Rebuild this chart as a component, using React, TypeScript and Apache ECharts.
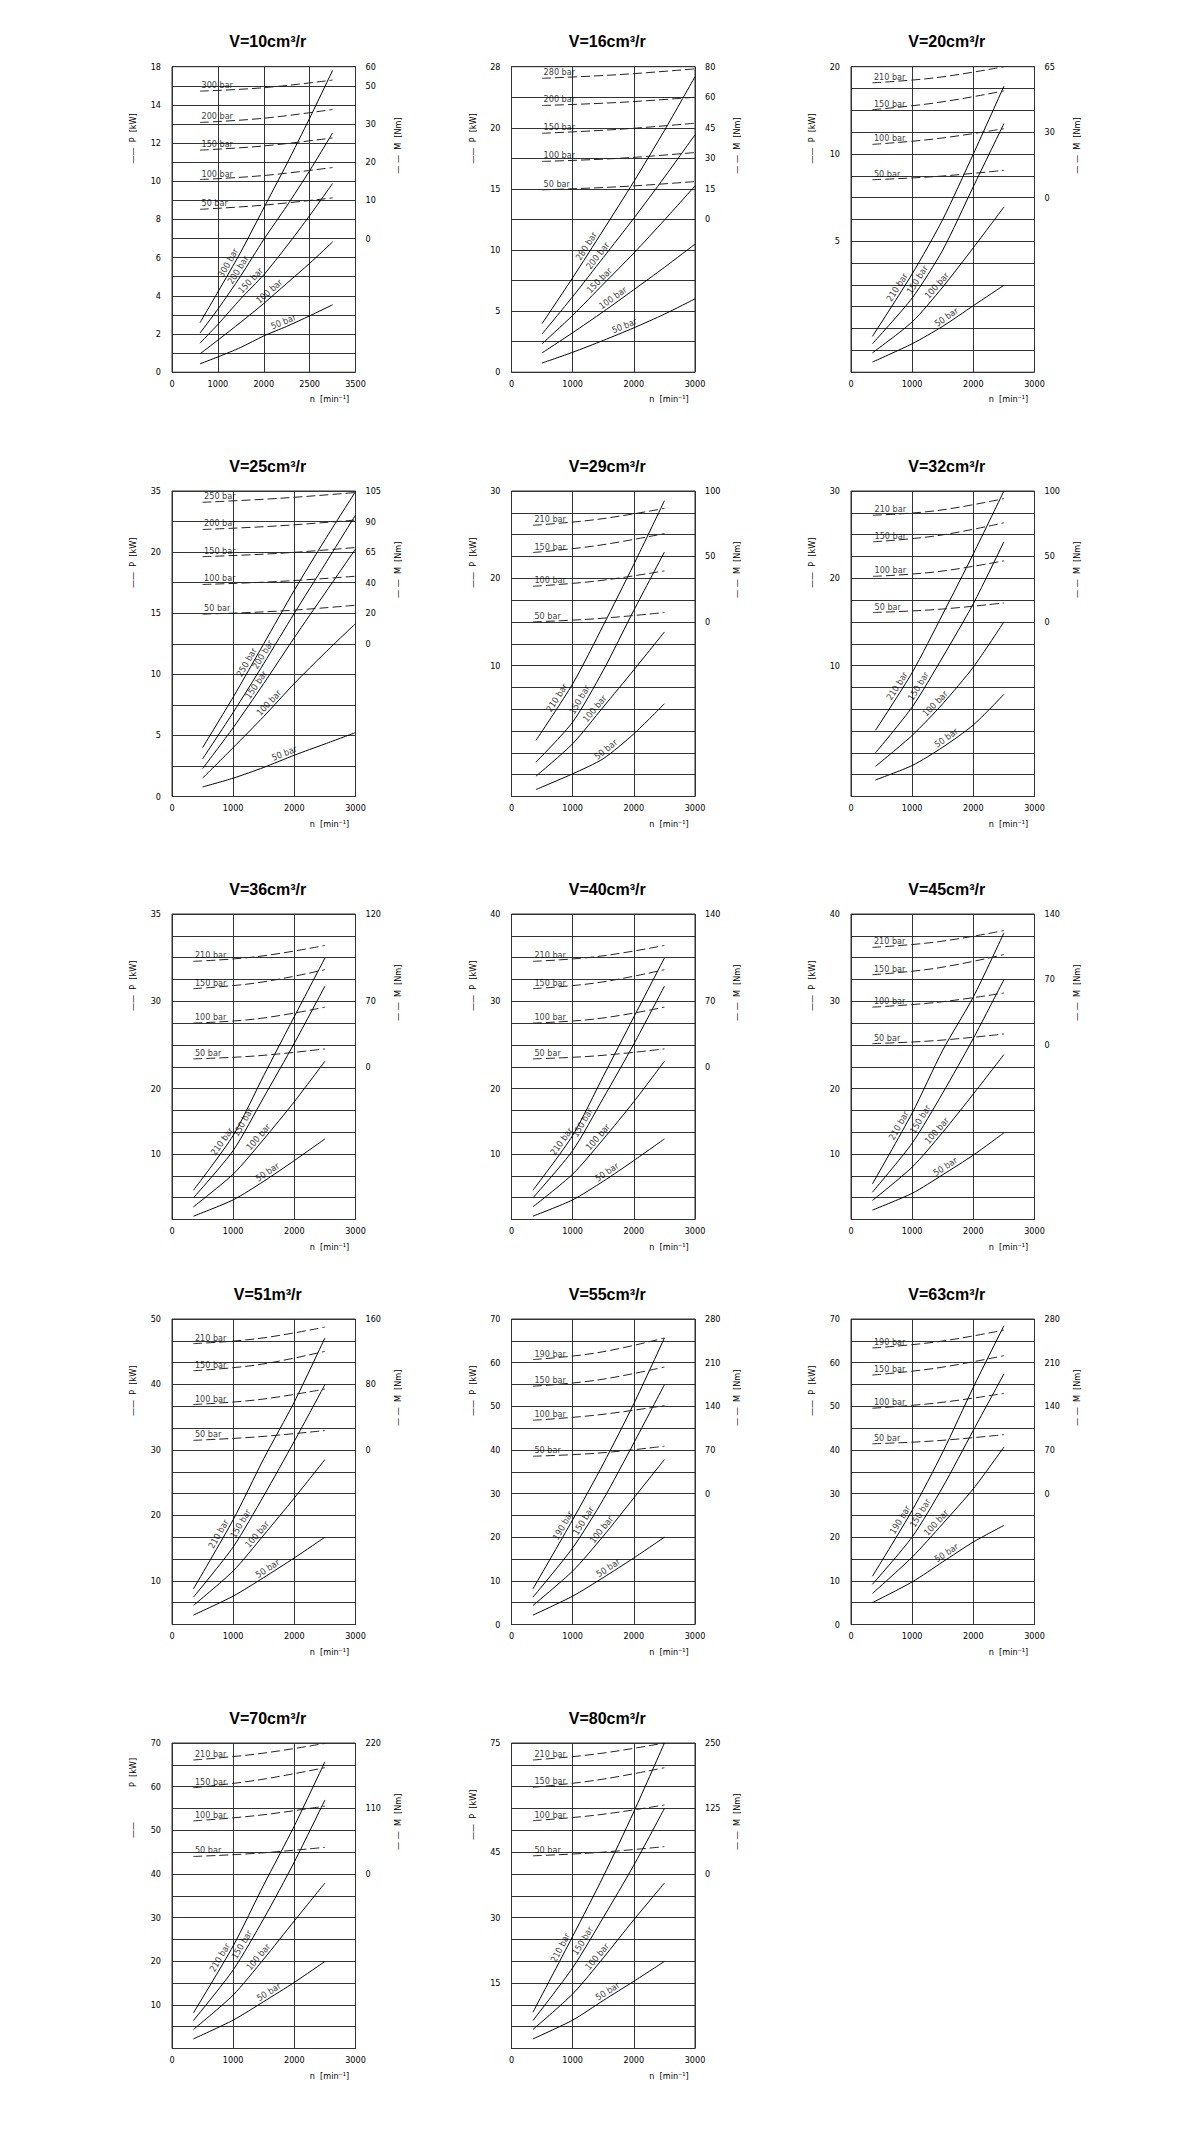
import React, { useEffect, useRef } from "react";
import * as echarts from "echarts";

type Curve = { bar: string; P: number[] };
type DashCurve = { bar: string; M: number[] };
type ChartDef = {
  title: string;
  xMax: number;
  xLabels: string[];
  rows: number;
  pStep: number;
  pLabels: [number, string][];
  mZero: number;
  mStep: number;
  mLabels: [number, string][];
  n: number[];
  solid: Curve[];
  labelAt: number[];
  nDash: number[];
  dashed: DashCurve[];
  pName?: [string, number][];
};

const X3 = ["0", "1000", "2000", "3000"];

// ---------- V=10 ----------
const V10: ChartDef = {
  title: "V=10cm³/r",
  xMax: 4000,
  xLabels: ["0", "1000", "2000", "2500", "3500"],
  rows: 16,
  pStep: 1,
  pLabels: [[0, "0"], [2, "2"], [4, "4"], [6, "6"], [8, "8"], [10, "10"], [12, "12"], [14, "14"], [16, "18"]],
  mZero: 7,
  mStep: 5,
  mLabels: [[7, "0"], [9, "10"], [11, "20"], [13, "30"], [15, "50"], [16, "60"]],
  n: [610, 1000, 1500, 2000, 2500, 3000, 3500],
  solid: [
    { bar: "300 bar", P: [2.59, 4.2, 6.3, 8.6, 10.9, 13.3, 15.8] },
    { bar: "200 bar", P: [2.05, 3.3, 5.05, 6.95, 8.7, 10.55, 12.53] },
    { bar: "150 bar", P: [1.52, 2.5, 3.85, 5.1, 6.6, 8.2, 9.88] },
    { bar: "100 bar", P: [0.96, 1.68, 2.62, 3.6, 4.65, 5.7, 6.82] },
    { bar: "50 bar", P: [0.44, 0.8, 1.3, 1.9, 2.4, 2.95, 3.53] },
  ],
  labelAt: [1330, 1540, 1800, 2200, 2475],
  nDash: [610, 2000, 3500],
  dashed: [
    { bar: "300 bar", M: [38.6, 39.5, 41.5] },
    { bar: "200 bar", M: [30.4, 31.5, 33.8] },
    { bar: "150 bar", M: [23.15, 24.25, 26.35] },
    { bar: "100 bar", M: [15.45, 16.5, 18.6] },
    { bar: "50 bar", M: [7.65, 8.75, 10.65] },
  ],
};

// ---------- V=16 ----------
const V16: ChartDef = {
  title: "V=16cm³/r",
  xMax: 3000,
  xLabels: X3,
  rows: 10,
  pStep: 2.5,
  pLabels: [[0, "0"], [2, "5"], [4, "10"], [6, "15"], [8, "20"], [10, "28"]],
  mZero: 5,
  mStep: 15,
  mLabels: [[5, "0"], [6, "15"], [7, "30"], [8, "45"], [9, "60"], [10, "80"]],
  n: [500, 1000, 1500, 2000, 2500, 3000],
  solid: [
    { bar: "280 bar", P: [3.98, 7.73, 11.63, 15.6, 19.78, 24.18] },
    { bar: "200 bar", P: [3.13, 6.18, 9.38, 12.6, 15.95, 19.43] },
    { bar: "150 bar", P: [2.33, 4.65, 7.2, 9.75, 12.45, 15.25] },
    { bar: "100 bar", P: [1.58, 3.23, 4.95, 6.75, 8.58, 10.48] },
    { bar: "50 bar", P: [0.75, 1.63, 2.6, 3.63, 4.75, 6.0] },
  ],
  labelAt: [1300, 1480, 1500, 1710, 1880],
  nDash: [500, 1750, 3000],
  dashed: [
    { bar: "280 bar", M: [69.3, 71.1, 73.95] },
    { bar: "200 bar", M: [55.95, 57.45, 60] },
    { bar: "150 bar", M: [42.3, 44.25, 47.25] },
    { bar: "100 bar", M: [28.5, 30, 32.85] },
    { bar: "50 bar", M: [14.55, 16.05, 18.6] },
  ],
};

// ---------- V=20 ----------
const V20: ChartDef = {
  title: "V=20cm³/r",
  xMax: 3000,
  xLabels: X3,
  rows: 14,
  pStep: 1.25,
  pLabels: [[6, "5"], [10, "10"], [14, "20"]],
  mZero: 8,
  mStep: 10,
  mLabels: [[8, "0"], [11, "30"], [14, "65"]],
  n: [350, 1000, 1500, 2000, 2500],
  solid: [
    { bar: "210 bar", P: [2.05, 5.63, 8.75, 12.5, 16.38] },
    { bar: "150 bar", P: [1.63, 4.25, 7.0, 10.63, 14.24] },
    { bar: "100 bar", P: [1.11, 2.88, 4.88, 7.13, 9.46] },
    { bar: "50 bar", P: [0.58, 1.63, 2.63, 3.81, 4.98] },
  ],
  labelAt: [830, 1160, 1470, 1610],
  nDash: [350, 1400, 2500],
  dashed: [
    { bar: "210 bar", M: [52.6, 55, 60] },
    { bar: "150 bar", M: [40.3, 43.5, 48.9] },
    { bar: "100 bar", M: [24.4, 27, 31.6] },
    { bar: "50 bar", M: [8.2, 9.7, 12.5] },
  ],
};

// ---------- V=25 ----------
const V25: ChartDef = {
  title: "V=25cm³/r",
  xMax: 3000,
  xLabels: X3,
  rows: 10,
  pStep: 2.5,
  pLabels: [[0, "0"], [2, "5"], [4, "10"], [6, "15"], [8, "20"], [10, "35"]],
  mZero: 5,
  mStep: 20,
  mLabels: [[5, "0"], [6, "20"], [7, "40"], [8, "65"], [9, "90"], [10, "105"]],
  n: [500, 1000, 1500, 2000, 2500, 3000],
  solid: [
    { bar: "250 bar", P: [4.0, 8.13, 12.5, 16.88, 21.0, 24.95] },
    { bar: "200 bar", P: [3.08, 6.88, 10.88, 15.0, 19.0, 23.03] },
    { bar: "150 bar", P: [2.28, 5.63, 9.25, 13.0, 16.63, 20.25] },
    { bar: "100 bar", P: [1.5, 4.0, 6.55, 9.25, 11.75, 14.15] },
    { bar: "50 bar", P: [0.78, 1.5, 2.38, 3.38, 4.3, 5.23] },
  ],
  labelAt: [1300, 1560, 1450, 1650, 1870],
  nDash: [500, 1750, 3000],
  dashed: [
    { bar: "250 bar", M: [92.6, 95.2, 99] },
    { bar: "200 bar", M: [74.8, 77.2, 81] },
    { bar: "150 bar", M: [57, 59.2, 63] },
    { bar: "100 bar", M: [38.8, 40.8, 44.2] },
    { bar: "50 bar", M: [19.4, 21.4, 25.2] },
  ],
};

// ---------- V=29 ----------
const V29: ChartDef = {
  title: "V=29cm³/r",
  xMax: 3000,
  xLabels: X3,
  rows: 14,
  pStep: 2.5,
  pLabels: [[6, "10"], [10, "20"], [14, "30"]],
  mZero: 8,
  mStep: 50 / 3,
  mLabels: [[8, "0"], [11, "50"], [14, "100"]],
  n: [400, 1000, 1500, 2000, 2500],
  solid: [
    { bar: "210 bar", P: [6.43, 12.9, 19.6, 26.6, 33.88] },
    { bar: "150 bar", P: [3.93, 8.53, 14.45, 21.33, 28.0] },
    { bar: "100 bar", P: [2.33, 6.05, 10.25, 14.5, 18.85] },
    { bar: "50 bar", P: [0.8, 2.6, 4.33, 7.18, 10.63] },
  ],
  labelAt: [820, 1190, 1430, 1600],
  nDash: [350, 1400, 2500],
  dashed: [
    { bar: "210 bar", M: [73.8, 78.3, 86.7] },
    { bar: "150 bar", M: [53.0, 58.3, 67.5] },
    { bar: "100 bar", M: [27.2, 31.3, 39.0] },
    { bar: "50 bar", M: [0, 2.5, 7.2] },
  ],
};

// ---------- V=32 ----------
const V32: ChartDef = {
  title: "V=32cm³/r",
  xMax: 3000,
  xLabels: X3,
  rows: 14,
  pStep: 2.5,
  pLabels: [[6, "10"], [10, "20"], [14, "30"]],
  mZero: 8,
  mStep: 50 / 3,
  mLabels: [[8, "0"], [11, "50"], [14, "100"]],
  n: [400, 1000, 1500, 2000, 2500],
  solid: [
    { bar: "210 bar", P: [7.58, 14.2, 20.9, 27.8, 35.0] },
    { bar: "150 bar", P: [5.0, 10.25, 15.98, 22.1, 29.18] },
    { bar: "100 bar", P: [3.45, 7.0, 10.63, 14.83, 20.0] },
    { bar: "50 bar", P: [1.9, 3.55, 5.65, 8.2, 11.7] },
  ],
  labelAt: [830, 1180, 1440, 1610],
  nDash: [360, 1400, 2500],
  dashed: [
    { bar: "210 bar", M: [81.5, 85, 94.2] },
    { bar: "150 bar", M: [61.2, 65.8, 75.7] },
    { bar: "100 bar", M: [34.8, 38.3, 46.7] },
    { bar: "50 bar", M: [7.2, 9.5, 14.5] },
  ],
};

// ---------- V=36 ----------
const V36: ChartDef = {
  title: "V=36cm³/r",
  xMax: 3000,
  xLabels: X3,
  rows: 14,
  pStep: 2.5,
  pLabels: [[3, "10"], [6, "20"], [10, "30"], [14, "35"]],
  mZero: 7,
  mStep: 70 / 3,
  mLabels: [[7, "0"], [10, "70"], [14, "120"]],
  n: [350, 1000, 1500, 2000, 2500],
  solid: [
    { bar: "210 bar", P: [3.35, 9.63, 16.5, 23.25, 29.95] },
    { bar: "150 bar", P: [2.48, 7.9, 14.0, 20.2, 26.73] },
    { bar: "100 bar", P: [1.45, 5.2, 9.2, 13.5, 18.13] },
    { bar: "50 bar", P: [0.38, 2.25, 4.38, 6.75, 9.23] },
  ],
  labelAt: [890, 1240, 1480, 1610],
  nDash: [350, 1400, 2500],
  dashed: [
    { bar: "210 bar", M: [112.7, 117.8, 129.7] },
    { bar: "150 bar", M: [83.5, 89.8, 103.8] },
    { bar: "100 bar", M: [46.7, 51.3, 63.7] },
    { bar: "50 bar", M: [8.4, 11.7, 19.1] },
  ],
};

// ---------- V=40 ----------
const V40: ChartDef = {
  title: "V=40cm³/r",
  xMax: 3000,
  xLabels: X3,
  rows: 14,
  pStep: 2.5,
  pLabels: [[3, "10"], [6, "20"], [10, "30"], [14, "40"]],
  mZero: 7,
  mStep: 70 / 3,
  mLabels: [[7, "0"], [10, "70"], [14, "140"]],
  n: [350, 1000, 1500, 2000, 2500],
  solid: [
    { bar: "210 bar", P: [3.35, 9.63, 16.4, 23.2, 29.95] },
    { bar: "150 bar", P: [2.48, 7.9, 13.9, 20.1, 26.73] },
    { bar: "100 bar", P: [1.45, 5.2, 9.2, 13.5, 18.13] },
    { bar: "50 bar", P: [0.38, 2.25, 4.38, 6.75, 9.23] },
  ],
  labelAt: [890, 1240, 1480, 1610],
  nDash: [350, 1400, 2500],
  dashed: [
    { bar: "210 bar", M: [112.7, 117.8, 129.7] },
    { bar: "150 bar", M: [83.5, 89.8, 103.8] },
    { bar: "100 bar", M: [46.7, 51.3, 63.7] },
    { bar: "50 bar", M: [8.4, 11.7, 19.1] },
  ],
};

// ---------- V=45 ----------
const V45: ChartDef = {
  title: "V=45cm³/r",
  xMax: 3000,
  xLabels: X3,
  rows: 14,
  pStep: 2.5,
  pLabels: [[3, "10"], [6, "20"], [10, "30"], [14, "40"]],
  mZero: 8,
  mStep: 70 / 3,
  mLabels: [[8, "0"], [11, "70"], [14, "140"]],
  n: [350, 1000, 1500, 2000, 2500],
  solid: [
    { bar: "210 bar", P: [4.08, 12.2, 19.4, 25.5, 32.83] },
    { bar: "150 bar", P: [3.13, 8.75, 14.5, 20.75, 27.48] },
    { bar: "100 bar", P: [2.18, 6.0, 10.0, 14.38, 18.9] },
    { bar: "50 bar", P: [1.08, 3.0, 5.13, 7.38, 9.93] },
  ],
  labelAt: [860, 1210, 1470, 1590],
  nDash: [350, 1400, 2500],
  dashed: [
    { bar: "210 bar", M: [104.3, 110.1, 122.3] },
    { bar: "150 bar", M: [75.1, 82.1, 96.6] },
    { bar: "100 bar", M: [40.4, 45.5, 55.5] },
    { bar: "50 bar", M: [1.4, 4.7, 11.7] },
  ],
};

// ---------- V=51 ----------
const V51: ChartDef = {
  title: "V=51m³/r",
  xMax: 3000,
  xLabels: X3,
  rows: 14,
  pStep: 2.5,
  pLabels: [[2, "10"], [5, "20"], [8, "30"], [11, "40"], [14, "50"]],
  mZero: 8,
  mStep: 80 / 3,
  mLabels: [[8, "0"], [11, "80"], [14, "160"]],
  n: [350, 1000, 1500, 2000, 2500],
  solid: [
    { bar: "210 bar", P: [4.08, 12.0, 19.0, 25.5, 32.83] },
    { bar: "150 bar", P: [3.13, 8.88, 14.75, 21.0, 27.48] },
    { bar: "100 bar", P: [2.18, 6.13, 10.25, 14.5, 18.9] },
    { bar: "50 bar", P: [1.08, 3.25, 5.38, 7.63, 10.0] },
  ],
  labelAt: [840, 1200, 1460, 1610],
  nDash: [350, 1400, 2500],
  dashed: [
    { bar: "210 bar", M: [129.9, 136, 150.1] },
    { bar: "150 bar", M: [96.8, 104, 120.5] },
    { bar: "100 bar", M: [55.5, 61.3, 74.4] },
    { bar: "50 bar", M: [11.7, 16, 23.7] },
  ],
};

// ---------- V=55 ----------
const V55: ChartDef = {
  title: "V=55cm³/r",
  xMax: 3000,
  xLabels: X3,
  rows: 14,
  pStep: 5,
  pLabels: [[0, "0"], [2, "10"], [4, "20"], [6, "30"], [8, "40"], [10, "50"], [12, "60"], [14, "70"]],
  mZero: 6,
  mStep: 35,
  mLabels: [[6, "0"], [8, "70"], [10, "140"], [12, "210"], [14, "280"]],
  n: [350, 1000, 1500, 2000, 2500],
  solid: [
    { bar: "190 bar", P: [8.15, 24.0, 36.8, 50.6, 65.65] },
    { bar: "150 bar", P: [6.25, 17.55, 28.65, 41.6, 54.95] },
    { bar: "100 bar", P: [4.35, 12.25, 20.25, 29.0, 37.8] },
    { bar: "50 bar", P: [2.15, 6.5, 10.75, 15.25, 20.0] },
  ],
  labelAt: [920, 1250, 1540, 1630],
  nDash: [350, 1400, 2500],
  dashed: [
    { bar: "190 bar", M: [214.9, 225.8, 249.6] },
    { bar: "150 bar", M: [172.2, 182, 203] },
    { bar: "100 bar", M: [117.6, 126, 141.1] },
    { bar: "50 bar", M: [59.9, 64.8, 76.0] },
  ],
};

// ---------- V=63 ----------
const V63: ChartDef = {
  title: "V=63cm³/r",
  xMax: 3000,
  xLabels: X3,
  rows: 14,
  pStep: 5,
  pLabels: [[0, "0"], [2, "10"], [4, "20"], [6, "30"], [8, "40"], [10, "50"], [12, "60"], [14, "70"]],
  mZero: 6,
  mStep: 35,
  mLabels: [[6, "0"], [8, "70"], [10, "140"], [12, "210"], [14, "280"]],
  n: [350, 1000, 1500, 2000, 2500],
  solid: [
    { bar: "190 bar", P: [11.05, 26.15, 39.5, 54.35, 68.45] },
    { bar: "150 bar", P: [9.2, 20.05, 31.5, 44.5, 57.4] },
    { bar: "100 bar", P: [7.1, 15.45, 23.1, 31.1, 40.65] },
    { bar: "50 bar", P: [5.0, 9.75, 14.35, 18.9, 22.7] },
  ],
  labelAt: [880, 1210, 1460, 1610],
  nDash: [350, 1400, 2500],
  dashed: [
    { bar: "190 bar", M: [233.5, 243.3, 262.2] },
    { bar: "150 bar", M: [190.1, 201.3, 221.2] },
    { bar: "100 bar", M: [136.9, 145.3, 160.7] },
    { bar: "50 bar", M: [79.8, 84.7, 94.5] },
  ],
};

// ---------- V=70 ----------
const V70: ChartDef = {
  title: "V=70cm³/r",
  xMax: 3000,
  xLabels: X3,
  rows: 14,
  pStep: 5,
  pLabels: [[2, "10"], [4, "20"], [6, "30"], [8, "40"], [10, "50"], [12, "60"], [14, "70"]],
  mZero: 8,
  mStep: 110 / 3,
  mLabels: [[8, "0"], [11, "110"], [14, "220"]],
  n: [350, 1000, 1500, 2000, 2500],
  solid: [
    { bar: "210 bar", P: [8.15, 23.5, 37.5, 51.0, 65.7] },
    { bar: "150 bar", P: [6.4, 18.0, 29.75, 42.75, 56.95] },
    { bar: "100 bar", P: [4.35, 12.25, 20.5, 29.25, 37.9] },
    { bar: "50 bar", P: [2.2, 6.5, 10.75, 15.15, 19.95] },
  ],
  labelAt: [860, 1220, 1480, 1630],
  nDash: [350, 1400, 2500],
  dashed: [
    { bar: "210 bar", M: [191.4, 201.7, 219.3] },
    { bar: "150 bar", M: [144.8, 157.7, 178.6] },
    { bar: "100 bar", M: [89.1, 98.3, 114.0] },
    { bar: "50 bar", M: [29.3, 34.8, 44.7] },
  ],
  pName: [["——", 95], ["P  [kW]", 44]],
};

// ---------- V=80 ----------
const V80: ChartDef = {
  title: "V=80cm³/r",
  xMax: 3000,
  xLabels: X3,
  rows: 14,
  pStep: 5,
  pLabels: [[3, "15"], [6, "30"], [9, "45"], [14, "75"]],
  mZero: 8,
  mStep: 125 / 3,
  mLabels: [[8, "0"], [11, "125"], [14, "250"]],
  n: [350, 1000, 1500, 2000, 2500],
  solid: [
    { bar: "210 bar", P: [8.3, 25.7, 39.4, 54.25, 70.0] },
    { bar: "150 bar", P: [6.4, 18.5, 30.0, 42.0, 55.0] },
    { bar: "100 bar", P: [4.35, 12.5, 20.75, 29.5, 37.9] },
    { bar: "50 bar", P: [2.2, 6.5, 11.0, 15.4, 19.95] },
  ],
  labelAt: [880, 1240, 1470, 1620],
  nDash: [350, 1400, 2500],
  dashed: [
    { bar: "210 bar", M: [217.5, 229.2, 250] },
    { bar: "150 bar", M: [165.4, 179.2, 202.9] },
    { bar: "100 bar", M: [101.7, 112.5, 131.7] },
    { bar: "50 bar", M: [34.6, 40.8, 52.1] },
  ],
};

const CHARTS: ChartDef[] = [V10, V16, V20, V25, V29, V32, V36, V40, V45, V51, V55, V63, V70, V80];

// ---------- layout / style ----------
const COL_LEFT = [172, 511.5, 851];
const ROW_TOP = [66.7, 491, 914, 1319, 1743];
const PW = 183.5;
const PH = 305.5;
const SMALL = "'Liberation Sans Narrow','DejaVu Sans Condensed','Liberation Sans',sans-serif";
const TITLE_FONT = "'Liberation Sans',Arial,sans-serif";
const INK = "#000";
const GRIDC = "#333";

function segIndex(xs: number[], x: number) {
  let k = 0;
  while (k < xs.length - 2 && x > xs[k + 1]) k++;
  return k;
}
function interp(xs: number[], ys: number[], x: number) {
  const k = segIndex(xs, x);
  const t = (x - xs[k]) / (xs[k + 1] - xs[k]);
  return ys[k] + t * (ys[k + 1] - ys[k]);
}

function buildOption() {
  const grid: any[] = [];
  const xAxis: any[] = [];
  const yAxis: any[] = [];
  const series: any[] = [];
  const graphic: any[] = [];

  CHARTS.forEach((c, i) => {
    const left = COL_LEFT[i % 3];
    const top = ROW_TOP[Math.floor(i / 3)];
    const right = left + PW;
    const bottom = top + PH;
    const pMax = c.rows * c.pStep;
    const mMin = -c.mZero * c.mStep;
    const mMax = (c.rows - c.mZero) * c.mStep;
    const pMap = new Map<number, string>(c.pLabels);
    const mMap = new Map<number, string>(c.mLabels);
    const lbl = { fontSize: 9, fontFamily: SMALL, color: INK };

    grid.push({ left, top, width: PW, height: PH, show: true, borderColor: GRIDC, borderWidth: 1, backgroundColor: "transparent" });
    xAxis.push({
      type: "value", gridIndex: i, min: 0, max: c.xMax, interval: 1000,
      axisLine: { show: false }, axisTick: { show: false },
      splitLine: { show: true, lineStyle: { color: GRIDC, width: 1 } },
      axisLabel: { ...lbl, margin: 7, formatter: (v: number) => c.xLabels[Math.round(v / 1000)] ?? "" },
    });
    yAxis.push({
      type: "value", gridIndex: i, position: "left", min: 0, max: pMax, interval: c.pStep,
      axisLine: { show: false }, axisTick: { show: false },
      splitLine: { show: true, lineStyle: { color: GRIDC, width: 1 } },
      axisLabel: { ...lbl, margin: 11, padding: [0, 0, 5, 0], formatter: (v: number) => pMap.get(Math.round(v / c.pStep)) ?? "" },
    });
    yAxis.push({
      type: "value", gridIndex: i, position: "right", min: mMin, max: mMax, interval: c.mStep,
      axisLine: { show: false }, axisTick: { show: false }, splitLine: { show: false },
      axisLabel: { ...lbl, margin: 10, padding: [0, 0, 5, 0], formatter: (v: number) => mMap.get(Math.round((v - mMin) / c.mStep)) ?? "" },
    });

    // solid power curves
    c.solid.forEach((s) => {
      series.push({
        type: "line", xAxisIndex: i, yAxisIndex: 2 * i, smooth: 0.25, showSymbol: false, silent: true,
        lineStyle: { color: INK, width: 1 },
        data: c.n.map((x, k) => [x, s.P[k]]),
      });
    });
    // labels along solid curves
    const solidLabels = c.solid.map((s, j) => {
      const at = c.labelAt[j];
      const yv = interp(c.n, s.P, at);
      const k = segIndex(c.n, at);
      const dx = ((c.n[k + 1] - c.n[k]) / c.xMax) * PW;
      const dy = ((s.P[k + 1] - s.P[k]) / pMax) * PH;
      const th = Math.atan2(dy, dx);
      const d = 5.5;
      return {
        value: [at, yv],
        label: {
          show: true, formatter: s.bar, rotate: (th * 180) / Math.PI,
          position: [-d * Math.sin(th) + 0.5, -d * Math.cos(th) + 0.5],
          align: "center", verticalAlign: "middle",
        },
      };
    });
    series.push({
      type: "scatter", xAxisIndex: i, yAxisIndex: 2 * i, symbolSize: 1, silent: true,
      itemStyle: { color: "transparent" },
      label: { show: true, ...lbl },
      data: solidLabels,
    });
    // dashed torque curves
    c.dashed.forEach((s) => {
      series.push({
        type: "line", xAxisIndex: i, yAxisIndex: 2 * i + 1, smooth: 0.4, showSymbol: false, silent: true,
        lineStyle: { color: "#222", width: 1, type: [9, 4] },
        data: c.nDash.map((x, k) => [x, s.M[k]]),
      });
    });
    series.push({
      type: "scatter", xAxisIndex: i, yAxisIndex: 2 * i + 1, symbolSize: 1, silent: true,
      itemStyle: { color: "transparent" },
      label: { show: true, ...lbl, position: [2, -1], align: "left", verticalAlign: "bottom" },
      data: c.dashed.map((s) => ({ value: [c.nDash[0], s.M[0]], label: { formatter: s.bar } })),
    });

    // titles and axis names
    graphic.push({
      type: "text", x: left + PW / 2 + 4, y: top - 25,
      style: { text: c.title, fontSize: 16, fontWeight: "bold", fontFamily: TITLE_FONT, fill: "#000", align: "center", verticalAlign: "middle", textAlign: "center", textVerticalAlign: "middle" },
    });
    const pParts: [string, number][] = c.pName ?? [["——  P  [kW]", 97]];
    pParts.forEach(([t, rel]) => {
      graphic.push({
        type: "text", x: left - 39, y: top + rel, rotation: Math.PI / 2,
        style: { text: t, fontSize: 9, fontFamily: SMALL, fill: INK, align: "left", verticalAlign: "middle", textAlign: "left", textVerticalAlign: "middle" },
      });
    });
    graphic.push({
      type: "text", x: right + 42, y: top + 107, rotation: Math.PI / 2,
      style: { text: "— —  M  [Nm]", fontSize: 9, fontFamily: SMALL, fill: INK, align: "left", verticalAlign: "middle", textAlign: "left", textVerticalAlign: "middle" },
    });
    graphic.push({
      type: "text", x: right - 26, y: bottom + 27,
      style: { text: "n  [min⁻¹]", fontSize: 9, fontFamily: SMALL, fill: INK, align: "center", verticalAlign: "middle", textAlign: "center", textVerticalAlign: "middle" },
    });
  });

  return {
    animation: false,
    backgroundColor: "#fff",
    grid, xAxis, yAxis, series,
    graphic: { elements: graphic },
  };
}

export default function App() {
  const ref = useRef<HTMLDivElement>(null);
  useEffect(() => {
    if (!ref.current) return;
    const chart = echarts.init(ref.current, undefined, { renderer: "svg" });
    chart.setOption(buildOption() as any);
    return () => chart.dispose();
  }, []);
  return (
    <div
      ref={ref}
      style={{ position: "absolute", left: 0, top: 0, width: 1200, height: 2141, background: "#fff" }}
    />
  );
}
